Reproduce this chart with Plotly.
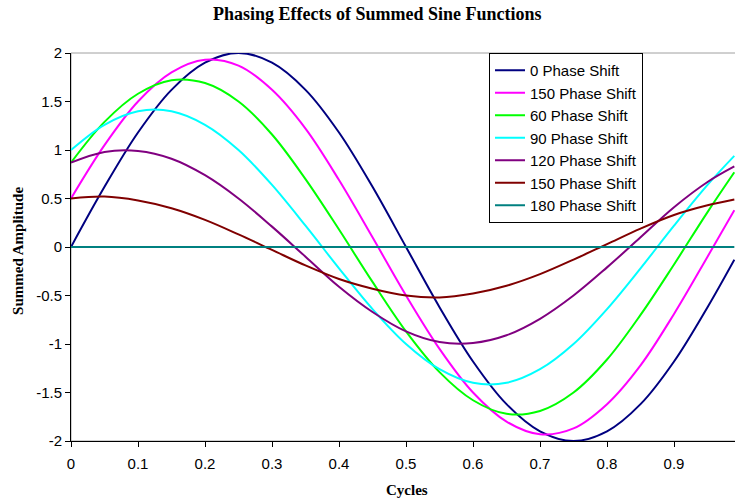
import plotly.graph_objects as go

# Sample positions along one cycle
cycles = [0, 0.05, 0.1, 0.15, 0.2, 0.25, 0.3, 0.35, 0.4, 0.45, 0.5,
          0.55, 0.6, 0.65, 0.7, 0.75, 0.8, 0.85, 0.9, 0.95, 0.99]

# Summed amplitude for each phase-shift series
shift_0 = [0, 0.62, 1.18, 1.62, 1.90, 2.00, 1.90, 1.62, 1.18, 0.62, 0,
           -0.62, -1.18, -1.62, -1.90, -2.00, -1.90, -1.62, -1.18, -0.62, -0.13]
shift_30 = [0.50, 1.05, 1.50, 1.80, 1.93, 1.87, 1.62, 1.22, 0.69, 0.10, -0.50,
            -1.05, -1.50, -1.80, -1.93, -1.87, -1.62, -1.22, -0.69, -0.10, 0.38]
shift_60 = [0.87, 1.29, 1.58, 1.72, 1.69, 1.50, 1.16, 0.70, 0.18, -0.36, -0.87,
            -1.29, -1.58, -1.72, -1.69, -1.50, -1.16, -0.70, -0.18, 0.36, 0.77]
shift_90 = [1.00, 1.26, 1.40, 1.40, 1.26, 1.00, 0.64, 0.22, -0.22, -0.64, -1.00,
            -1.26, -1.40, -1.40, -1.26, -1.00, -0.64, -0.22, 0.22, 0.64, 0.94]
shift_120 = [0.87, 0.98, 0.99, 0.91, 0.74, 0.50, 0.21, -0.10, -0.41, -0.67, -0.87,
             -0.98, -0.99, -0.91, -0.74, -0.50, -0.21, 0.10, 0.41, 0.67, 0.83]
shift_150 = [0.50, 0.52, 0.48, 0.40, 0.28, 0.13, -0.03, -0.19, -0.33, -0.43, -0.50,
             -0.52, -0.48, -0.40, -0.28, -0.13, 0.03, 0.19, 0.33, 0.43, 0.49]
shift_180 = [0] * len(cycles)

series_names = ["0 Phase Shift", "150 Phase Shift", "60 Phase Shift", "90 Phase Shift",
                "120 Phase Shift", "150 Phase Shift", "180 Phase Shift"]
series_values = [shift_0, shift_30, shift_60, shift_90, shift_120, shift_150, shift_180]
series_colors = ["#000080", "#FF00FF", "#00FF00", "#00FFFF", "#800080", "#800000", "#008080"]

x_ticks = [0, 0.1, 0.2, 0.3, 0.4, 0.5, 0.6, 0.7, 0.8, 0.9]
x_tick_labels = ["0", "0.1", "0.2", "0.3", "0.4", "0.5", "0.6", "0.7", "0.8", "0.9"]
y_ticks = [-2, -1.5, -1, -0.5, 0, 0.5, 1, 1.5, 2]
y_tick_labels = ["-2", "-1.5", "-1", "-0.5", "0", "0.5", "1", "1.5", "2"]

SANS = "Liberation Sans, Arial, sans-serif"
SERIF = "Liberation Serif, Times New Roman, serif"

fig = go.Figure()
for name, vals, col in zip(series_names, series_values, series_colors):
    fig.add_trace(go.Scatter(
        x=cycles, y=vals, name=name, mode="lines",
        line=dict(color=col, width=2, shape="spline"),
    ))

fig.update_layout(
    width=735, height=504,
    margin=dict(l=71, r=0, t=53, b=63),
    paper_bgcolor="white", plot_bgcolor="white",
    showlegend=True,
    legend=dict(
        x=(489 - 71) / 664, y=1 - (53 - 53) / 388, xanchor="left", yanchor="top",
        bgcolor="white", bordercolor="#000000", borderwidth=1,
        font=dict(family=SANS, size=15, color="#000000"),
        itemwidth=30,
    ),
    xaxis=dict(
        range=[0, 0.991], tickmode="array", tickvals=x_ticks, ticktext=x_tick_labels,
        showgrid=False, zeroline=False, showline=True, linecolor="#000000", linewidth=1,
        ticks="outside", ticklen=5, tickcolor="#000000", ticklabelstandoff=4,
        tickfont=dict(family=SANS, size=15, color="#000000"),
        automargin=False,
    ),
    yaxis=dict(
        range=[-2, 2], tickmode="array", tickvals=y_ticks, ticktext=y_tick_labels,
        showgrid=False, zeroline=False, showline=True, linecolor="#000000", linewidth=1,
        ticks="outside", ticklen=5, tickcolor="#000000",
        tickfont=dict(family=SANS, size=15, color="#000000"),
        automargin=False,
    ),
    shapes=[dict(type="rect", xref="paper", yref="paper", x0=0, x1=1.01, y0=0, y1=1,
                 line=dict(color="#A0A0A0", width=1), layer="below")],
    annotations=[
        dict(text="<b>Phasing Effects of Summed Sine Functions</b>", xref="paper", yref="paper",
             x=(377 - 71) / 664, y=1, yshift=39, xanchor="center", yanchor="middle",
             showarrow=False, font=dict(family=SERIF, size=18, color="#000000")),
        dict(text="<b>Cycles</b>", xref="paper", yref="paper",
             x=(407 - 71) / 664, y=0, yshift=-49, xanchor="center", yanchor="middle",
             showarrow=False, font=dict(family=SERIF, size=15, color="#000000")),
        dict(text="<b>Summed Amplitude</b>", xref="paper", yref="paper",
             x=0, xshift=-53, y=0.49, xanchor="center", yanchor="middle", textangle=-90,
             showarrow=False, font=dict(family=SERIF, size=15, color="#000000")),
    ],
)

fig.write_html("out.html")
